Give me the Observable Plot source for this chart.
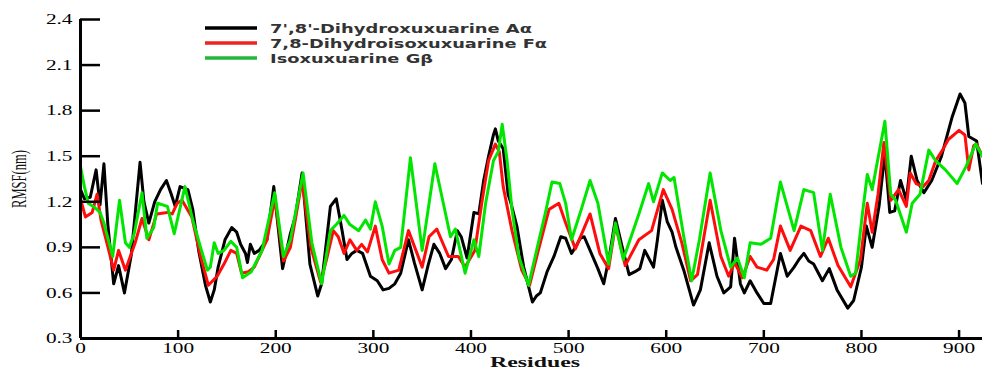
<!DOCTYPE html>
<html>
<head>
<meta charset="utf-8">
<script src="https://cdn.jsdelivr.net/npm/d3@7"></script>
<script src="https://cdn.jsdelivr.net/npm/@observablehq/plot@0.6"></script>
<style>
  html, body { margin: 0; padding: 0; background: #fff; }
  #chart { width: 982px; height: 369px; }
</style>
</head>
<body>
<div id="chart"></div>
<script>
// ---- Data ----
const seriesNames = ["7',8'-Dihydroxuxuarine A\u03b1", "7,8-Dihydroisoxuxuarine F\u03b1", "Isoxuxuarine G\u03b2"];
const seriesColors = ["#000000", "#ff0d0d", "#00e600"];
const legendColors = ["#000000", "#ee2222", "#22b83a"];

const xTicks = [0, 100, 200, 300, 400, 500, 600, 700, 800, 900];
const yTicks = [0.3, 0.6, 0.9, 1.2, 1.5, 1.8, 2.1, 2.4];

const resA = [0,4,10,16,20,24,28,34,39,45,52,61,65,70,76,82,88,93,97,102,110,115,121,128,133,137,141,148,155,160,164,169,171,174,178,183,191,198,203,207,215,220,227,235,243,247,256,262,268,273,278,283,289,297,304,310,316,322,328,336,342,350,356,362,368,374,380,386,390,396,403,408,413,418,423,425,428,433,438,441,447,454,463,467,471,478,485,492,497,503,507,512,516,522,530,536,542,548,555,562,568,573,578,587,591,596,601,606,610,618,628,635,644,652,659,666,670,676,680,686,693,700,707,717,724,731,736,741,746,751,760,767,775,786,792,800,805,811,818,824,829,834,840,846,851,857,864,872,882,893,901,906,910,918,924];
const valA = [1.28,1.22,1.23,1.41,1.18,1.45,1.05,0.66,0.78,0.60,0.85,1.46,1.20,1.06,1.20,1.28,1.34,1.25,1.17,1.30,1.28,1.15,0.88,0.65,0.54,0.62,0.77,0.95,1.03,1.00,0.92,0.86,0.80,0.92,0.86,0.88,0.95,1.30,1.00,0.76,0.99,1.10,1.39,0.79,0.58,0.66,1.17,1.22,1.01,0.82,0.86,0.88,0.86,0.71,0.68,0.62,0.63,0.66,0.73,0.95,0.80,0.62,0.78,0.92,0.86,0.76,0.82,1.01,0.97,0.83,1.13,1.12,1.34,1.50,1.64,1.68,1.60,1.55,1.25,1.19,1.04,0.77,0.54,0.58,0.60,0.74,0.84,0.97,0.96,0.86,0.90,0.96,0.97,0.88,0.76,0.66,0.85,1.09,0.90,0.72,0.74,0.76,0.88,0.77,0.95,1.21,1.07,1.00,0.90,0.75,0.52,0.62,0.93,0.71,0.60,0.64,0.96,0.66,0.60,0.68,0.60,0.53,0.53,0.86,0.71,0.77,0.82,0.86,0.81,0.79,0.68,0.76,0.62,0.50,0.55,0.77,1.04,0.90,1.17,1.52,1.13,1.14,1.34,1.21,1.50,1.34,1.26,1.34,1.50,1.76,1.91,1.85,1.63,1.60,1.32];

const resF = [0,5,12,17,21,27,34,39,46,56,63,70,78,89,94,99,104,114,123,131,140,147,154,160,165,172,178,186,191,199,208,215,220,227,236,246,252,259,264,270,276,283,288,294,302,309,316,326,336,350,357,365,377,387,394,404,411,418,425,429,433,442,452,460,469,480,490,497,507,522,532,541,548,558,572,585,597,606,616,625,632,645,656,664,670,678,686,693,703,710,717,727,738,748,758,766,776,789,799,806,811,817,823,830,838,846,850,856,863,869,876,883,889,900,906,910,915,918,924];
const valF = [1.22,1.10,1.13,1.25,1.08,0.93,0.75,0.88,0.75,0.93,1.09,0.95,1.12,1.13,1.12,1.19,1.21,1.10,0.84,0.65,0.71,0.79,0.88,0.86,0.73,0.74,0.77,0.88,0.95,1.22,0.81,0.90,1.08,1.34,0.90,0.67,0.82,1.01,0.97,0.86,0.95,0.88,0.92,0.87,1.04,0.82,0.73,0.75,1.01,0.77,0.97,1.02,0.84,0.84,0.77,0.88,1.19,1.47,1.58,1.53,1.30,1.01,0.75,0.65,0.88,1.15,1.19,1.06,0.89,1.12,0.86,0.76,1.05,0.78,0.95,1.01,1.28,1.15,0.93,0.68,0.72,1.21,0.84,0.71,0.80,0.70,0.84,0.77,0.75,0.82,1.04,0.88,1.04,1.01,0.84,0.96,0.78,0.64,0.82,1.19,1.00,1.25,1.59,1.21,1.28,1.17,1.39,1.32,1.30,1.34,1.47,1.54,1.61,1.67,1.64,1.41,1.57,1.58,1.50];

const resG = [0,4,8,15,20,24,33,40,46,50,55,63,68,75,79,89,96,107,115,123,130,133,137,141,147,154,160,166,175,186,199,208,215,228,237,247,256,262,270,276,285,292,297,302,309,316,322,328,338,350,363,379,384,394,403,408,415,423,428,432,437,442,449,459,469,476,483,491,497,503,513,522,530,541,548,556,572,582,587,596,604,608,618,626,634,645,656,666,673,680,686,697,707,717,731,741,751,760,768,779,789,794,801,806,811,824,830,835,846,852,860,869,876,886,898,907,917,924];
const valG = [1.43,1.30,1.19,1.16,1.13,1.06,0.84,1.21,0.93,0.90,0.99,1.26,0.96,1.03,1.19,1.17,0.99,1.30,1.08,0.90,0.75,0.77,0.93,0.86,0.88,0.94,0.90,0.70,0.74,0.88,1.26,0.84,0.95,1.39,0.93,0.66,1.01,1.05,1.11,1.05,1.01,1.08,1.02,1.20,1.04,0.79,0.88,0.90,1.49,0.88,1.45,0.97,1.02,0.73,0.95,0.84,1.19,1.47,1.53,1.71,1.47,1.15,0.84,0.65,0.93,1.12,1.33,1.32,1.19,0.95,1.15,1.34,1.19,0.79,1.06,0.82,1.12,1.32,1.20,1.39,1.34,1.36,0.97,0.68,0.95,1.39,1.01,0.77,0.83,0.70,0.93,0.92,0.96,1.33,1.01,1.28,1.26,0.88,1.25,0.90,0.71,0.73,1.12,1.38,1.28,1.73,1.25,1.21,1.00,1.19,1.25,1.54,1.47,1.41,1.32,1.43,1.58,1.50];

// ---- Build tables ----
const toRows = (res, val) => res.map((r, i) => ({r, v: val[i]}));
const rowsA = toRows(resA, valA);
const rowsF = toRows(resF, valF);
const rowsG = toRows(resG, valG);

const chart = Plot.plot({
  width: 982,
  height: 369,
  marginLeft: 80,
  marginRight: 0,
  marginTop: 19,
  marginBottom: 31,
  style: {fontFamily: "'Liberation Serif', 'Times New Roman', serif", fontSize: "15px", background: "white", color: "black", overflow: "visible"},
  x: {domain: [0, 924]},
  y: {domain: [0.3, 2.4]},
  marks: [
    Plot.line(rowsA, {x: "r", y: "v", stroke: seriesColors[0], strokeWidth: 3, strokeLinejoin: "round"}),
    Plot.line(rowsF, {x: "r", y: "v", stroke: seriesColors[1], strokeWidth: 3, strokeLinejoin: "round"}),
    Plot.line(rowsG, {x: "r", y: "v", stroke: seriesColors[2], strokeWidth: 3, strokeLinejoin: "round"}),
    Plot.axisX(xTicks, {tickSize: 8, dy: -8, tickPadding: 4, strokeWidth: 2.5, label: null, tickFormat: d => String(d), fill: "black"}),
    Plot.axisY(yTicks, {tickSize: 20, dx: 20, tickPadding: 8, strokeWidth: 2.5, label: null, tickFormat: d3.format(".1f"), fill: "black"}),
    Plot.ruleX([0], {strokeWidth: 3, stroke: "black"}),
    Plot.ruleY([0.3], {strokeWidth: 3, stroke: "black"})
  ]
});

document.getElementById("chart").appendChild(chart);
const svg = d3.select(chart);

// widen tick labels horizontally like the reference
svg.selectAll('g[aria-label="x-axis tick label"] text, g[aria-label="y-axis tick label"] text').each(function() {
  const x = +this.getAttribute("x") || 0;
  const y = +this.getAttribute("y") || 0;
  const t = this.getAttribute("transform") || "";
  this.setAttribute("transform", `${t} translate(${x},${y}) scale(1.42,1) translate(${-x},${-y})`);
});

// axis titles
svg.append("text")
  .attr("x", 535).attr("y", 366.5)
  .attr("text-anchor", "middle")
  .attr("font-family", "'Liberation Serif', serif")
  .attr("font-weight", "bold")
  .attr("font-size", 15)
  .attr("textLength", 90).attr("lengthAdjust", "spacingAndGlyphs")
  .attr("fill", "#111")
  .text("Residues");

svg.append("text")
  .attr("transform", "translate(26,179) rotate(-90) scale(1,1.4)")
  .attr("text-anchor", "middle")
  .attr("font-family", "'Liberation Serif', serif")
  .attr("font-size", 15)
  .attr("textLength", 58).attr("lengthAdjust", "spacingAndGlyphs")
  .attr("fill", "#111")
  .text("RMSF(nm)");

// legend
const legendY = [28, 43, 58];
const legendW = [262, 277, 163];
const lg = svg.append("g").attr("aria-label", "legend");
seriesNames.forEach((name, i) => {
  lg.append("line")
    .attr("x1", 205).attr("x2", 257)
    .attr("y1", legendY[i]).attr("y2", legendY[i])
    .attr("stroke", legendColors[i]).attr("stroke-width", 3.5);
  lg.append("text")
    .attr("x", 270).attr("y", legendY[i] + 4.5)
    .attr("text-anchor", "start")
    .attr("font-family", "'DejaVu Sans', 'Noto Sans', sans-serif")
    .attr("font-weight", "bold")
    .attr("font-size", 12.4)
    .attr("textLength", legendW[i]).attr("lengthAdjust", "spacingAndGlyphs")
    .attr("fill", "#333")
    .text(name);
});
</script>
</body>
</html>
